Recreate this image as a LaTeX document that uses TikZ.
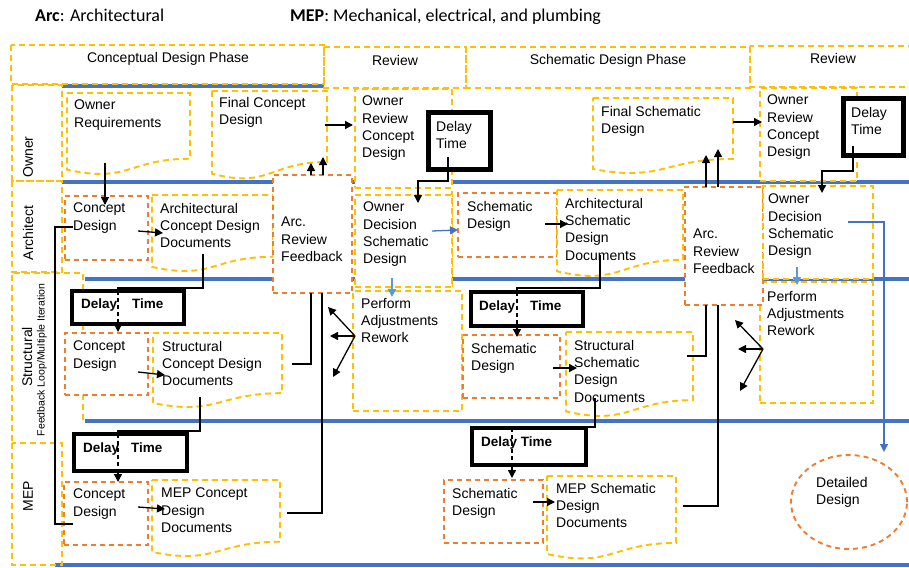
\documentclass[tikz,border=0pt]{standalone}
\usepackage{fontspec}
\setmainfont{Liberation Sans}
\newfontfamily\hdrfont{Carlito}
\usetikzlibrary{calc,arrows.meta,shapes.geometric}
\definecolor{ygold}{HTML}{FFC000}
\definecolor{oorg}{HTML}{ED7D31}
\definecolor{lnblue}{HTML}{4472C4}
\definecolor{ltblue}{HTML}{5B9BD5}
\newcommand\docshape[2]{%
  \draw[#2] (#1.north west) -- (#1.north east) -- ($(#1.north east)!0.802!(#1.south east)$)
   .. controls ($(#1.north)!0.802!(#1.south)$) and ($(#1.north)!1.107!(#1.south)$) ..
   ($(#1.north west)!0.934!(#1.south west)$) -- cycle;}
\tikzset{
 ydash/.style={draw=ygold, line width=1.9pt, dash pattern=on 6pt off 4pt},
 odash/.style={draw=oorg, line width=1.9pt, dash pattern=on 5pt off 4pt},
 laneline/.style={draw=lnblue, line width=3.5pt},
 ybox/.style={ydash, fill=white, anchor=north west, inner sep=0pt, outer sep=0pt},
 obox/.style={odash, fill=white, anchor=north west, inner sep=0pt, outer sep=0pt},
 docn/.style={anchor=north west, inner sep=0pt, outer sep=0pt},
 dlybox/.style={draw=black, line width=4pt, fill=white, anchor=north west, inner sep=0pt, outer sep=0pt},
 txt/.style={anchor=north west, inner sep=0pt, align=left, font=\fontsize{14}{17.3}\selectfont},
 btxt/.style={anchor=north west, inner sep=0pt, font=\fontsize{13.5}{16}\selectfont\bfseries},
 hdr/.style={anchor=base, inner sep=0pt, font=\fontsize{14}{17}\selectfont},
 lbl/.style={rotate=90, inner sep=0pt, font=\fontsize{14}{17}\selectfont},
 legend/.style={anchor=base west, inner sep=0pt, font=\hdrfont\fontsize{18}{21}\selectfont},
 arr/.style={draw=black, line width=1.3pt, -{Triangle[length=8pt,width=8pt]}},
 ln/.style={draw=black, line width=1.3pt},
 dln/.style={draw=black, line width=1.3pt, dash pattern=on 4pt off 3pt},
 barr/.style={draw=lnblue, line width=1.3pt, -{Triangle[length=8pt,width=8pt]}},
 lbarr/.style={draw=ltblue, line width=1.6pt, -{Triangle[length=8pt,width=8pt]}},
}
\begin{document}
\begin{tikzpicture}[x=1pt,y=-1pt]
\useasboundingbox (0,0) rectangle (909,567);
% top legend
\node[legend] (tA) at (35,22) {\textbf{Arc}: Architectural};
\node[legend] (tB) at (290,22) {\textbf{MEP}: Mechanical, electrical, and plumbing};
% lane lines
\draw[laneline] (62,86) -- (324,86);
\draw[laneline] (62,182) -- (909,182);
\draw[laneline] (85,279) -- (909,279);
\draw[laneline] (85,421) -- (909,421);
\draw[laneline] (55,565) -- (909,565);
% header and label boxes
\draw[ydash] (11,45) rectangle (324,84);
\draw[ydash] (324,47) rectangle (466,88);
\draw[ydash] (466,47) rectangle (750,88);
\draw[ydash] (750,46) rectangle (916,87);
\draw[ydash] (12,85) rectangle (62,181);
\draw[ydash] (12,181) rectangle (62,272);
\draw[ydash] (83,420) -- (83,273) -- (12,273) -- (12,443);
\draw[ydash] (12,443) rectangle (62,565);
\draw[ydash] (452,191) -- (452,288);
\node[hdr] (h1) at (168,63) {Conceptual Design Phase};
\node[hdr] (h2) at (395,66) {Review};
\node[hdr] (h3) at (608,65) {Schematic Design Phase};
\node[hdr] (h4) at (833,64) {Review};
\node[lbl] (lo) at (28,157) {Owner};
\node[lbl] (la) at (28,233) {Architect};
\node[lbl] (ls) at (27,357) {Structural};
\node[lbl, font=\fontsize{10.5}{12}\selectfont] (lf) at (42,360) {Feedback Loop/Multiple Iteration};
\node[lbl] (lm) at (28,496) {MEP};
% owner lane
\node[docn, minimum width=123, minimum height=82] (ownreq) at (67,93) {};
\docshape{ownreq}{ydash,fill=white}
\node[docn, minimum width=115, minimum height=88.5] (fcd) at (212,91) {};
\docshape{fcd}{ydash,fill=white}
\node[ybox, minimum width=97, minimum height=99] (orc1) at (355,89) {};
\node[dlybox, line width=5pt, minimum width=62, minimum height=56] (d1) at (428,113) {};
\node[docn, minimum width=140, minimum height=76] (fsd) at (593,98) {};
\docshape{fsd}{ydash,fill=white}
\node[ybox, minimum width=97, minimum height=93] (orc2) at (760,88) {};
\node[dlybox, line width=5pt, minimum width=60, minimum height=56] (d2) at (843,99) {};
% architect lane
\node[obox, minimum width=83, minimum height=64] (acd) at (65,196) {};
\node[docn, minimum width=121, minimum height=77] (acdd) at (152,195) {};
\docshape{acdd}{ydash,fill=white}
\node[obox, minimum width=79, minimum height=118] (arf1) at (273,175) {};
\node[ybox, minimum width=97, minimum height=92] (od1) at (355,195) {};
\node[obox, minimum width=99, minimum height=64] (asd) at (458,193) {};
\node[docn, minimum width=126, minimum height=87] (asdd) at (557,190) {};
\docshape{asdd}{ydash,fill=white}
\node[ybox, minimum width=113, minimum height=121] (pa2) at (760,282) {};
\node[obox, minimum width=78, minimum height=118] (arf2) at (685,187) {};
\node[ybox, minimum width=110, minimum height=93] (od2) at (763,186) {};
% structural lane
\node[dlybox, minimum width=112, minimum height=33] (ds1) at (72,291) {};
\node[obox, minimum width=83, minimum height=62] (scd) at (65,333) {};
\node[docn, minimum width=129, minimum height=75] (scdd) at (153,333) {};
\docshape{scdd}{ydash,fill=white}
\node[ybox, minimum width=109, minimum height=120] (pa1) at (353,291) {};
\node[dlybox, minimum width=112, minimum height=34] (ds2) at (471,292) {};
\node[obox, minimum width=97, minimum height=63] (ssd) at (463,335) {};
\node[docn, minimum width=127, minimum height=85] (ssdd) at (566,332) {};
\docshape{ssdd}{ydash,fill=white}
% MEP lane
\node[dlybox, minimum width=113, minimum height=37] (dm1) at (74,434) {};
\node[obox, minimum width=84, minimum height=63] (mcd) at (64,482) {};
\node[docn, minimum width=128, minimum height=77] (mcdd) at (152,480) {};
\docshape{mcdd}{ydash,fill=white}
\node[dlybox, minimum width=114, minimum height=37] (dm2) at (472,428) {};
\node[obox, minimum width=99, minimum height=63] (msd) at (444,480) {};
\node[docn, minimum width=129, minimum height=83.5] (msdd) at (547,476) {};
\docshape{msdd}{ydash,fill=white}
\node[odash, ellipse, minimum width=116, minimum height=94, inner sep=0pt] (dd) at (849,502) {};
% texts
\node[txt] (t-ownreq) at (74,100) {Owner\\Requirements};
\node[txt] (t-fcd) at (219,97) {Final Concept\\Design};
\node[txt] (t-orc1) at (362,96) {Owner\\Review\\Concept\\Design};
\node[txt] (t-d1) at (436,121) {Delay\\Time};
\node[txt] (t-fsd) at (601,106) {Final Schematic\\Design};
\node[txt] (t-orc2) at (767,95) {Owner\\Review\\Concept\\Design};
\node[txt] (t-d2) at (851,107) {Delay\\Time};
\node[txt] (t-acd) at (73,203) {Concept\\Design};
\node[txt] (t-acdd) at (160,203) {Architectural\\Concept Design\\Documents};
\node[txt] (t-arf1) at (281,217) {Arc.\\Review\\Feedback};
\node[txt] (t-od1) at (363,202) {Owner\\Decision\\Schematic\\Design};
\node[txt] (t-asd) at (467,201) {Schematic\\Design};
\node[txt] (t-asdd) at (565,198) {Architectural\\Schematic\\Design\\Documents};
\node[txt] (t-arf2) at (693,229) {Arc.\\Review\\Feedback};
\node[txt] (t-od2) at (768,194) {Owner\\Decision\\Schematic\\Design};
\node[txt] (t-pa2) at (767,291) {Perform\\Adjustments\\Rework};
\node[btxt] (t-ds1) at (81,299) {Delay\hspace{15pt}Time};
\node[txt] (t-scd) at (73,341) {Concept\\Design};
\node[txt] (t-scdd) at (162,341) {Structural\\Concept Design\\Documents};
\node[txt] (t-pa1) at (361,298) {Perform\\Adjustments\\Rework};
\node[btxt] (t-ds2) at (479,301) {Delay\hspace{15pt}Time};
\node[txt] (t-ssd) at (471,343) {Schematic\\Design};
\node[txt] (t-ssdd) at (574,340) {Structural\\Schematic\\Design\\Documents};
\node[btxt] (t-dm1) at (83,443) {Delay\hspace{12pt}Time};
\node[txt] (t-mcd) at (73,489) {Concept\\Design};
\node[txt] (t-mcdd) at (161,488) {MEP Concept\\Design\\Documents};
\node[btxt] (t-dm2) at (481,437) {Delay Time};
\node[txt] (t-msd) at (452,488) {Schematic\\Design};
\node[txt] (t-msdd) at (556,483) {MEP Schematic\\Design\\Documents};
\node[txt] (t-dd) at (816,477) {Detailed\\Design};
% connectors
\draw[arr] ($(ownreq.north west)+(38,70)$) -- ($(acd.north west)+(40,9)$);
\draw[arr] ($(acd.north west)+(73,35)$) -- ($(acdd.north west)+(11,38)$);
\draw[arr] ($(scd.north west)+(73,39)$) -- ($(scdd.north west)+(12,42)$);
\draw[arr] ($(mcd.north west)+(74,25)$) -- ($(mcdd.north west)+(13,29)$);
% docs to delays
\draw[ln] ($(acdd.north west)+(51,59)$) |- ($(ds1.north west)+(46,-3)$) -- ($(ds1.north west)+(46,0)$);
\draw[dln] ($(ds1.north west)+(46,0)$) -- ($(ds1.north west)+(46,33)$);
\draw[arr] ($(ds1.north west)+(46,33)$) -- ($(scd.north west)+(53,-1)$);
\draw[ln] ($(scdd.north west)+(47,64)$) |- ($(dm1.north west)+(44,-3)$) -- ($(dm1.north west)+(44,0)$);
\draw[dln] ($(dm1.north west)+(44,0)$) -- ($(dm1.north west)+(44,37)$);
\draw[arr] ($(dm1.north west)+(44,37)$) -- ($(mcd.north west)+(54,0)$);
\draw[ln] ($(asdd.north west)+(43,65)$) |- ($(ds2.north west)+(46,-4)$) -- ($(ds2.north west)+(46,0)$);
\draw[dln] ($(ds2.north west)+(46,0)$) -- ($(ds2.north west)+(46,34)$);
\draw[arr] ($(ds2.north west)+(46,34)$) -- ($(ssd.north west)+(54,2)$);
\draw[ln] ($(ssdd.north west)+(29,66)$) |- ($(dm2.north west)+(40,-1)$) -- ($(dm2.north west)+(40,0)$);
\draw[dln] ($(dm2.north west)+(40,0)$) -- ($(dm2.north west)+(40,37)$);
\draw[arr] ($(dm2.north west)+(40,37)$) -- ($(msd.north west)+(68,-2)$);
% design to documents
\draw[arr] ($(msd.north west)+(89,22)$) -- ($(msdd.north west)+(8,26)$);
\draw[arr] ($(ssd.north west)+(90,33)$) -- ($(ssdd.north west)+(11,36)$);
\draw[arr] ($(asd.north west)+(87,31)$) -- ($(asdd.north west)+(11,34)$);
% owner lane
\draw[arr] ($(fcd.north west)+(113,34)$) -- ($(orc1.north west)+(-2,36)$);
\draw[arr] ($(fsd.north west)+(140,24)$) -- ($(orc2.north west)+(2,34)$);
\draw[arr] ($(arf1.north west)+(38,0)$) -- ($(fcd.north west)+(99,72)$);
\draw[arr] ($(arf1.north west)+(50,0)$) -- ($(fcd.north west)+(111,66)$);
\draw[arr] ($(arf2.north west)+(21,0)$) -- ($(fsd.north west)+(113,57)$);
\draw[arr] ($(arf2.north west)+(33,0)$) -- ($(fsd.north west)+(125,51)$);
\draw[arr] ($(d1.north west)+(20,44)$) -- ($(d1.north west)+(20,68)$) -| ($(od1.north west)+(63,8)$);
\draw[arr] ($(d2.north west)+(10,47)$) -- ($(d2.north west)+(10,72)$) -| ($(od2.north west)+(59,7)$);
% blue
\draw[barr] ($(od1.north west)+(77,36)$) -- ($(asd.north west)+(0,37)$);
\draw[lbarr] ($(od1.north west)+(37,83)$) -- ($(pa1.north west)+(39,6)$);
\draw[lbarr] ($(od2.north west)+(34,81)$) -- ($(pa2.north west)+(37,3)$);
\draw[barr, line width=1.2pt] ($(od2.north west)+(85,36)$) -- ++(36,0) -- ($(dd.center)+(35,-50)$);
% feedback to review
\draw[ln] ($(scdd.north west)+(139,31)$) -| ($(arf1.south west)+(38,0)$);
\draw[ln] ($(mcdd.north west)+(135,33)$) -| ($(arf1.south west)+(49,0)$);
\draw[ln] ($(ssdd.north west)+(121,24)$) -| ($(arf2.south west)+(21,0)$);
\draw[ln] ($(msdd.north west)+(136,30)$) -| ($(arf2.south west)+(33,0)$);
\draw[ln] ($(acd.north west)+(8,31)$) -- ++(-18,0) |- ($(mcd.north west)+(9,42)$);
% fans
\coordinate (f1a) at (328,307);
\coordinate (f1b) at (330,336);
\coordinate (f1c) at (333,377);
\coordinate (f2a) at (735,320);
\coordinate (f2b) at (738,349);
\coordinate (f2c) at (740,391);
\draw[arr] ($(pa1.north west)+(2,45)$) -- (f1a);
\draw[arr] ($(pa1.north west)+(2,45)$) -- (f1b);
\draw[arr] ($(pa1.north west)+(2,45)$) -- (f1c);
\draw[arr] ($(pa2.north west)+(3,67)$) -- (f2a);
\draw[arr] ($(pa2.north west)+(3,67)$) -- (f2b);
\draw[arr] ($(pa2.north west)+(3,67)$) -- (f2c);
\end{tikzpicture}
\end{document}
